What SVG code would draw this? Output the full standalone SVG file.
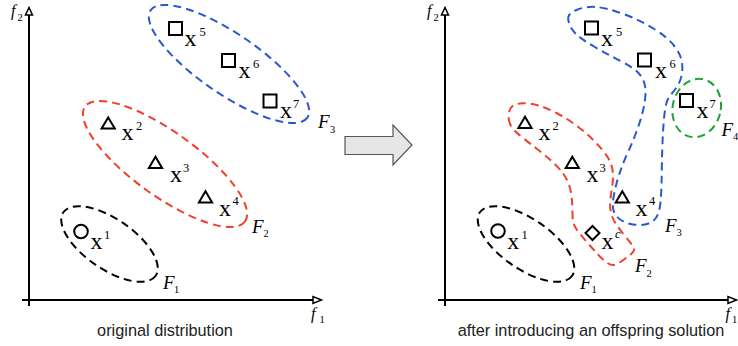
<svg xmlns="http://www.w3.org/2000/svg" width="738" height="346" viewBox="0 0 738 346">
<style>
.pt{fill:none;stroke:#000;stroke-width:2}
.ax{fill:none;stroke:#000;stroke-width:2}
.ah{fill:#fff;stroke:#000;stroke-width:1.5;stroke-linejoin:miter}
.d{fill:none;stroke-width:2;stroke-dasharray:8 5}
.k{stroke:#000}.r{stroke:#f0402e}.b{stroke:#2a58cc}.g{stroke:#22a035}
.x{font-family:"Liberation Serif",serif;font-size:24px;fill:#000}
.s{font-family:"Liberation Serif",serif;font-size:12.5px;fill:#000}
.F{font-family:"Liberation Serif",serif;font-style:italic;font-size:19px;fill:#000}
.f{font-family:"Liberation Serif",serif;font-style:italic;font-size:16px;fill:#000}
.sb{font-family:"Liberation Serif",serif;font-size:10.5px;fill:#000}
.cap{font-family:"Liberation Sans",Arial,sans-serif;font-size:16.3px;fill:#222;text-anchor:middle}
</style>
<defs>
<path id="tri" d="M0,-5.8 L6.6,5.4 L-6.6,5.4 Z"/>
</defs>

<!-- LEFT PANEL -->
<g id="left-axes">
<line class="ax" x1="29" y1="15" x2="29" y2="306"/>
<polygon class="ah" points="29,7.5 25.5,15 32.5,15"/>
<line class="ax" x1="22" y1="300" x2="313" y2="300"/>
<polygon class="ah" points="321.5,300 313,296.5 313,303.5"/>
<text class="f" x="11" y="15.5">f</text><text class="sb" x="17.5" y="20.5">2</text>
<text class="f" x="311" y="318.5">f</text><text class="sb" x="319.5" y="323">1</text>
<text class="cap" x="165" y="335.5">original distribution</text>
</g>

<g id="L-F1"><ellipse class="d k" cx="109.5" cy="244" rx="56" ry="25" transform="rotate(34.5 109.5 244)"/>
<text class="F" x="163" y="289">F</text><text class="sb" x="174" y="293">1</text></g>
<g id="L-F2"><ellipse class="d r" cx="165" cy="164" rx="98.5" ry="32" transform="rotate(35.7 165 164)"/>
<text class="F" x="252" y="232.5">F</text><text class="sb" x="263.5" y="236.5">2</text></g>
<g id="L-F3"><ellipse class="d b" cx="229" cy="64" rx="95" ry="30" transform="rotate(34.4 229 64)"/>
<text class="F" x="318" y="128">F</text><text class="sb" x="330" y="132.5">3</text></g>

<g id="L-x1"><circle class="pt" cx="81" cy="231.5" r="6.8"/><text class="x" x="90.5" y="249">x</text><text class="s" x="104" y="239">1</text></g>
<g id="L-x2"><use href="#tri" class="pt" x="108.2" y="123.2"/><text class="x" x="121.5" y="140">x</text><text class="s" x="136" y="130">2</text></g>
<g id="L-x3"><use href="#tri" class="pt" x="155.5" y="162.5"/><text class="x" x="170" y="181.7">x</text><text class="s" x="183" y="171.7">3</text></g>
<g id="L-x4"><use href="#tri" class="pt" x="205.5" y="197"/><text class="x" x="219" y="216">x</text><text class="s" x="232.5" y="205">4</text></g>
<g id="L-x5"><rect class="pt" x="169" y="22" width="13" height="13"/><text class="x" x="184.5" y="46">x</text><text class="s" x="199.5" y="35.5">5</text></g>
<g id="L-x6"><rect class="pt" x="222" y="54" width="13" height="13"/><text class="x" x="238.5" y="78">x</text><text class="s" x="253" y="67.5">6</text></g>
<g id="L-x7"><rect class="pt" x="263.5" y="94.5" width="13" height="13"/><text class="x" x="280" y="118">x</text><text class="s" x="293" y="108">7</text></g>

<g id="connectors">
<polygon points="345,136.5 393,136.5 393,125 412,145 393,165 393,154.5 345,154.5" fill="#e6e6e6" stroke="#555" stroke-width="1.2"/>
</g>

<!-- RIGHT PANEL -->
<g id="right-axes">
<line class="ax" x1="445" y1="15" x2="445" y2="306"/>
<polygon class="ah" points="445,7.5 441.5,15 448.5,15"/>
<line class="ax" x1="438" y1="300" x2="728" y2="300"/>
<polygon class="ah" points="736.5,300 728,296.5 728,303.5"/>
<text class="f" x="427" y="15.5">f</text><text class="sb" x="433.5" y="20.5">2</text>
<text class="f" x="725.5" y="318.5">f</text><text class="sb" x="732" y="323">1</text>
<text class="cap" x="591" y="335.5">after introducing an offspring solution</text>
</g>

<g id="R-F1"><ellipse class="d k" cx="526" cy="244" rx="56" ry="25" transform="rotate(34.5 526 244)"/>
<text class="F" x="580" y="289.3">F</text><text class="sb" x="591.5" y="293">1</text></g>
<g id="R-F2"><path class="d r" d="M510.5,125 Q508,120 508.75,114 Q509.5,108 513,105.75 Q516.5,103.5 523.25,103.25 Q530,103 538.5,105.5 Q547,108 557,113.25 Q567,118.5 577,126 Q587,133.5 595,141.75 Q603,150 607.25,156.5 Q611.5,163 612.5,170 Q613.5,177 612.5,184 Q611.5,191 610.5,198 Q609.5,205 610.75,211.5 Q612,218 616,224 Q620,230 625,236 Q630,242 633,246.25 Q636,250.5 631,254.25 Q626,258 619.75,262.5 Q613.5,267 608.25,263.5 Q603,260 597.5,254 Q592,248 586,241 Q580,234 576.25,228.75 Q572.5,223.5 572.5,214.25 Q572.5,205 571.75,197.5 Q571,190 568.5,183.5 Q566,177 562,172 Q558,167 552,161.5 Q546,156 538,149.75 Q530,143.5 521.5,136.75 Q513,130 510.5,125 Z"/>
<text class="F" x="635" y="271.7">F</text><text class="sb" x="646.5" y="276.5">2</text></g>
<g id="R-F3"><path class="d b" d="M568.5,21 Q566.5,13.5 576.5,10 Q586,6 596.5,7 Q607,8 623.5,14 Q640,20 653.5,28.5 Q667,37 673.5,45 Q680,53 681.5,60 Q683,67 682,73.5 Q681,80 678,85 Q675,90 671,94.5 Q667,99 665.5,107 Q664,115 663,132.5 Q662,150 661.75,172.5 Q661.5,195 660.25,204.5 Q659,214 655.5,218.5 Q652,223 646,224.25 Q640,225.5 633,224.5 Q626,223.5 620.5,219.75 Q615,216 613.5,210.5 Q612,205 614,194.5 Q616,184 619.5,173.5 Q623,163 628.5,151 Q634,139 638.5,126 Q643,113 644.75,101.5 Q646.5,90 644.25,83 Q642,76 637,71.5 Q632,67 619.5,60.5 Q607,54 594,46.5 Q581,39 575.5,33.5 Q570,28 568.5,21 Z"/>
<text class="F" x="665" y="231.7">F</text><text class="sb" x="676.5" y="236">3</text></g>
<g id="R-F4"><ellipse class="d g" cx="696.7" cy="108" rx="24" ry="29.5" transform="rotate(14 696.7 108)"/>
<text class="F" x="721.5" y="135.7">F</text><text class="sb" x="733" y="140">4</text></g>

<g id="R-x1"><circle class="pt" cx="498" cy="231" r="6.8"/><text class="x" x="507.3" y="249">x</text><text class="s" x="521.5" y="239">1</text></g>
<g id="R-x2"><use href="#tri" class="pt" x="525" y="122.5"/><text class="x" x="538.5" y="140">x</text><text class="s" x="552.5" y="130">2</text></g>
<g id="R-x3"><use href="#tri" class="pt" x="572.3" y="162.5"/><text class="x" x="586.5" y="181.7">x</text><text class="s" x="599.5" y="171.7">3</text></g>
<g id="R-x4"><use href="#tri" class="pt" x="622.3" y="197"/><text class="x" x="635.5" y="216">x</text><text class="s" x="649" y="205">4</text></g>
<g id="R-x5"><rect class="pt" x="585" y="21.5" width="13" height="13"/><text class="x" x="601" y="46">x</text><text class="s" x="616" y="35.5">5</text></g>
<g id="R-x6"><rect class="pt" x="638" y="53.5" width="13" height="13"/><text class="x" x="655" y="78">x</text><text class="s" x="669.5" y="67.5">6</text></g>
<g id="R-x7"><rect class="pt" x="680" y="94" width="13" height="13"/><text class="x" x="696.5" y="118">x</text><text class="s" x="709.5" y="108">7</text></g>
<g id="R-xc"><polygon class="pt" points="592.5,226 599.5,233 592.5,240 585.5,233"/><text class="x" x="601.5" y="249.3">x</text><text class="s" x="615" y="238" font-style="italic">c</text></g>
</svg>
